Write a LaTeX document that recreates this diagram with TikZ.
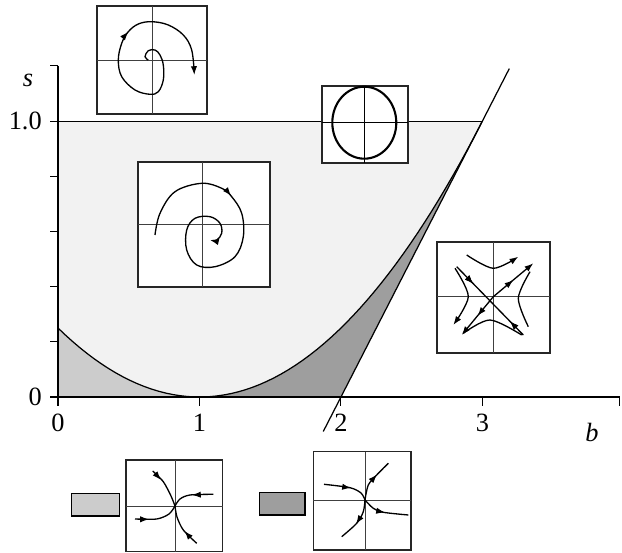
\documentclass[tikz,border=0pt]{standalone}
\usepackage{fontspec}
\setmainfont{Liberation Serif}
\usetikzlibrary{arrows.meta,decorations.markings}

\definecolor{lightreg}{gray}{0.95}
\definecolor{midreg}{gray}{0.80}
\definecolor{darkreg}{gray}{0.62}

\tikzset{
  inset/.style = {draw = black!85, fill = white, line width = 0.6pt},
  cross/.style = {draw = black!75, line width = 0.5pt},
  traj/.style = {draw, line width = 0.75pt},
  tip/.style = {-{Latex[length = 5pt, width = 3.6pt]}},
  arrowat/.style = {postaction = {decorate},
    decoration = {markings, mark = at position #1 with {\arrow{Latex[length = 5pt, width = 3.6pt]}}}},
  arrowback/.style = {postaction = {decorate},
    decoration = {markings, mark = at position #1 with {\arrowreversed{Latex[length = 5pt, width = 3.6pt]}}}},
}

\begin{document}
\begin{tikzpicture}[x = 0.02cm, y = -0.02cm, font = \fontsize{15}{17}\selectfont]
  \useasboundingbox (0,0) rectangle (622,553);
  % b-s plane
  \begin{scope}[shift = {(58,397)}, x = 2.83cm, y = 5.52cm]
    % regions
    \path[fill = lightreg](0,1) -- (3,1) -- plot[domain = 3:0, samples = 50](\x,{(\x-1)^2/4}) -- cycle;
    \path[fill = midreg](0,0) -- (1,0) -- plot[domain = 1:0, samples = 30](\x,{(\x-1)^2/4}) -- cycle;
    \path[fill = darkreg](1,0) -- (2,0) -- (3,1) -- plot[domain = 3:1, samples = 40](\x,{(\x-1)^2/4}) -- cycle;
    % parabola s = (b-1)^2/4
    \path[draw, line width = 0.7pt] plot[domain = 0:3, samples = 60](\x,{(\x-1)^2/4});
    % line s = b-2
    \coordinate(lo)at(1.875,-0.125);
    \coordinate(hi)at(3.19,1.19);
    \path[draw, line width = 0.7pt](lo) -- (hi);
    % s = 1
    \path[draw, line width = 0.6pt](0,1) -- (3,1);
    % axes
    \path[draw, line width = 0.6pt](0,1.2) -- (0,-0.033);
    \path[draw, line width = 0.6pt](0,0) -- (3.97,0);
    \foreach \t in {0,0.2,0.4,0.6,0.8,1.0,1.2}
      \path[draw, line width = 0.6pt](0,\t) -- (-0.057,\t);
    \foreach \t in {1,2,3,3.97}
      \path[draw, line width = 0.6pt](\t,0) -- (\t,-0.033);
    % labels
    \foreach \t in {0,1,2,3}
      \node[below, inner sep = 1pt](xl\t) at (\t,-0.055) {\t};
    \node[left, inner sep = 1pt](yl0) at (-0.1,0) {0};
    \node[left, inner sep = 1pt](yl1) at (-0.1,1) {1.0};
    \node(sl) at (-0.212,1.149) {\itshape s};
    \node(bl) at (3.774,-0.127) {\itshape b};
  \end{scope}

  % unstable focus
  \path[inset](97,6) rectangle (207,114);
  \path[cross](152,6) -- (152,114);
  \path[cross](97,60) -- (207,60);
  \path[traj, tip, arrowat = 0.6] plot[smooth, tension = 0.6] coordinates {
    (148.3,60) (145,56.7) (148.3,50.7) (155,50) (160,55) (163.3,65) (163.3,80)
    (158.3,91.7) (150,94.3) (135,90) (121.7,76.7) (118.3,60) (121.7,43.3)
    (128.3,31.7) (138.3,24) (151.7,21.7) (168.3,25) (183.3,35) (191.7,50) (194.3,75)};

  % stable focus
  \path[inset](138,162) rectangle (270,287);
  \path[cross](202,162) -- (202,287);
  \path[cross](138,224) -- (270,224);
  \path[traj, tip, arrowat = 0.34] plot[smooth, tension = 0.6] coordinates {
    (155,235) (160,213.3) (175,191.7) (201.7,183.3) (221.7,188.3) (231.7,196.7)
    (241.7,213.3) (243.3,236.7) (235,256.7) (215,266.7) (196.7,265) (186.7,250)
    (186.7,230) (195,218.3) (210,216.7) (220,223.3) (221.7,233.3) (216.7,240) (210,240)};

  % centre
  \path[inset, line width = 1.2pt](322,86) rectangle (408,163);
  \path[draw, line width = 0.8pt](364.3,86) -- (364.3,163);
  \path[draw, line width = 0.8pt](322,122.7) -- (408,122.7);
  \path[draw, line width = 1.2pt](364.3,122.7) ellipse [x radius = 32, y radius = 36];

  % saddle
  \path[inset](437,242) rectangle (550,353);
  \path[cross](493.3,242) -- (493.3,353);
  \path[cross](437,296.7) -- (550,296.7);
  \coordinate(sc)at(493.3,296.7);
  \coordinate(ne)at(533.3,263.3);
  \coordinate(sw)at(461.7,335);
  \path[traj, arrowat = 0.25, arrowback = 0.8](456.7,266.7) -- (523.3,335);
  \path[traj, tip, arrowat = 0.5](sc) -- (ne);
  \path[traj, tip, arrowat = 0.5](sc) -- (sw);
  \path[traj, tip] plot[smooth] coordinates {(466.7,255) (493.3,268.3) (518.3,256.7)};
  \path[traj, tip] plot[smooth] coordinates {(455,268.3) (468.3,296.7) (453.3,325)};
  \path[traj] plot[smooth] coordinates {(530,271.7) (518.3,298.3) (528.3,326.7)};
  \path[traj] plot[smooth] coordinates {(463.3,333.3) (490,320) (521.7,335)};

  % legend: light region, stable node
  \path[draw, fill = midreg, line width = 0.8pt](71.7,493.3) rectangle (119.3,516);
  \path[inset](126,460) rectangle (222.7,551.7);
  \path[cross](175,460) -- (175,551.7);
  \path[cross](126,506) -- (222.7,506);
  \path[traj] plot[smooth] coordinates {(152.7,471) (163.3,481.7) (171,496) (175,506)};
  \path[traj] plot[smooth] coordinates {(213.3,494.3) (190,495) (180,499) (175,506)};
  \path[traj] plot[smooth] coordinates {(135,519) (156.7,519) (169,514) (175,506)};
  \path[traj] plot[smooth] coordinates {(196.7,543.3) (183.3,530) (177,517) (175,506)};
  \path[traj, tip](157,475.5) -- (161,480);
  \path[traj, tip](197,494.8) -- (192,495);
  \path[traj, tip](144,519.3) -- (149,519.3);
  \path[traj, tip](188,535) -- (184.5,531);

  % legend: dark region
  \path[draw, fill = darkreg, line width = 0.8pt](259.3,492.7) rectangle (305,515);
  \path[inset](313.3,451.7) rectangle (411,550);
  \path[cross](365,451.7) -- (365,550);
  \path[cross](313.3,500) -- (411,500);
  \path[traj] plot[smooth] coordinates {(324,484.3) (350,487.7) (361,493) (365,500)};
  \path[traj] plot[smooth] coordinates {(365,500) (368.3,485) (376.7,475) (388.3,463.3)};
  \path[traj] plot[smooth] coordinates {(365,500) (373.3,508.3) (383.3,512.3) (408.3,515)};
  \path[traj] plot[smooth] coordinates {(365,500) (363.3,511.7) (356.7,523.3) (341.7,536.7)};
  \path[traj, tip](346,487.3) -- (351,488);
  \path[traj, tip](372.5,479.5) -- (377,474.5);
  \path[traj, tip](380,511.5) -- (385,512.5);
  \path[traj, tip](359,519.5) -- (356,524);
\end{tikzpicture}
\end{document}
